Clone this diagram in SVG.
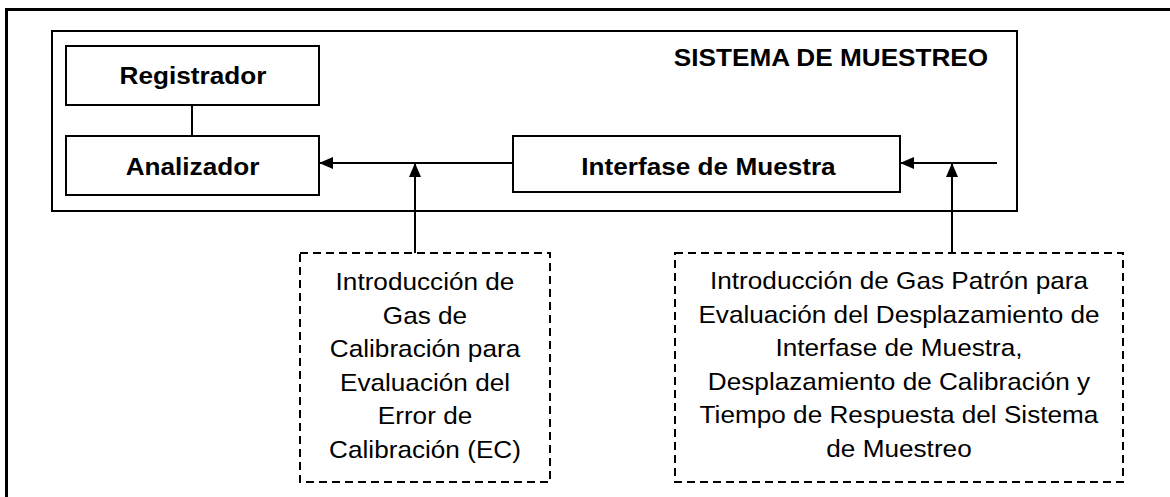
<svg xmlns="http://www.w3.org/2000/svg" width="1170" height="497" viewBox="0 0 1170 497">
<defs>
<style>
.box{fill:#fff;stroke:#000;stroke-width:2}
.dash{fill:#fff;stroke:#000;stroke-width:2;stroke-dasharray:8 5}
.ln{fill:none;stroke:#000;stroke-width:2}
.b{font-family:"Liberation Sans",Arial,sans-serif;font-weight:bold;font-size:24px;text-anchor:middle;fill:#000}
.r{font-family:"Liberation Sans",Arial,sans-serif;font-size:24px;text-anchor:middle;fill:#000}
</style>
<marker id="ah" viewBox="0 0 14 12" refX="14" refY="6" markerWidth="14" markerHeight="12" markerUnits="userSpaceOnUse" orient="auto">
<path d="M0,0 L14,6 L0,12 Z" fill="#000"/>
</marker>
</defs>
<rect width="1170" height="497" fill="#fff"/>
<path d="M6.5,500 V9.5 H1175" fill="none" stroke="#000" stroke-width="3"/>
<g id="sistema">
<rect class="box" x="52" y="31" width="965" height="180"/>
<text class="b" transform="translate(831,66) scale(1.09,1)">SISTEMA DE MUESTREO</text>
</g>
<g id="registrador">
<rect class="box" x="66" y="46" width="253" height="59"/>
<text class="b" transform="translate(193,84) scale(1.09,1)">Registrador</text>
</g>
<g id="analizador">
<rect class="box" x="66" y="136" width="253" height="59"/>
<text class="b" transform="translate(192.5,175) scale(1.09,1)">Analizador</text>
</g>
<g id="interfase">
<rect class="box" x="513" y="136" width="387" height="56"/>
<text class="b" transform="translate(708.5,175) scale(1.09,1)">Interfase de Muestra</text>
</g>
<g id="calibracion">
<rect class="dash" x="300" y="253" width="250" height="229"/>
<g class="r">
<text transform="translate(425,290) scale(1.09,1)">Introducción de</text>
<text transform="translate(425,323.5) scale(1.09,1)">Gas de</text>
<text transform="translate(425,357) scale(1.09,1)">Calibración para</text>
<text transform="translate(425,390.5) scale(1.09,1)">Evaluación del</text>
<text transform="translate(425,424) scale(1.09,1)">Error de</text>
<text transform="translate(425,457.5) scale(1.09,1)">Calibración (EC)</text>
</g>
</g>
<g id="patron">
<rect class="dash" x="675" y="253" width="448" height="229"/>
<g class="r">
<text transform="translate(899,289) scale(1.09,1)">Introducción de Gas Patrón para</text>
<text transform="translate(899,322.5) scale(1.09,1)">Evaluación del Desplazamiento de</text>
<text transform="translate(899,356) scale(1.09,1)">Interfase de Muestra,</text>
<text transform="translate(899,389.5) scale(1.09,1)">Desplazamiento de Calibración y</text>
<text transform="translate(899,423) scale(1.09,1)">Tiempo de Respuesta del Sistema</text>
<text transform="translate(899,456.5) scale(1.09,1)">de Muestreo</text>
</g>
</g>
<g id="connectors">
<line class="ln" x1="192" y1="105" x2="192" y2="136"/>
<line class="ln" x1="513" y1="163" x2="319" y2="163" marker-end="url(#ah)"/>
<line class="ln" x1="997" y1="163" x2="900" y2="163" marker-end="url(#ah)"/>
<line class="ln" x1="415" y1="253" x2="415" y2="163" marker-end="url(#ah)"/>
<line class="ln" x1="952" y1="253" x2="952" y2="163" marker-end="url(#ah)"/>
</g>
</svg>
